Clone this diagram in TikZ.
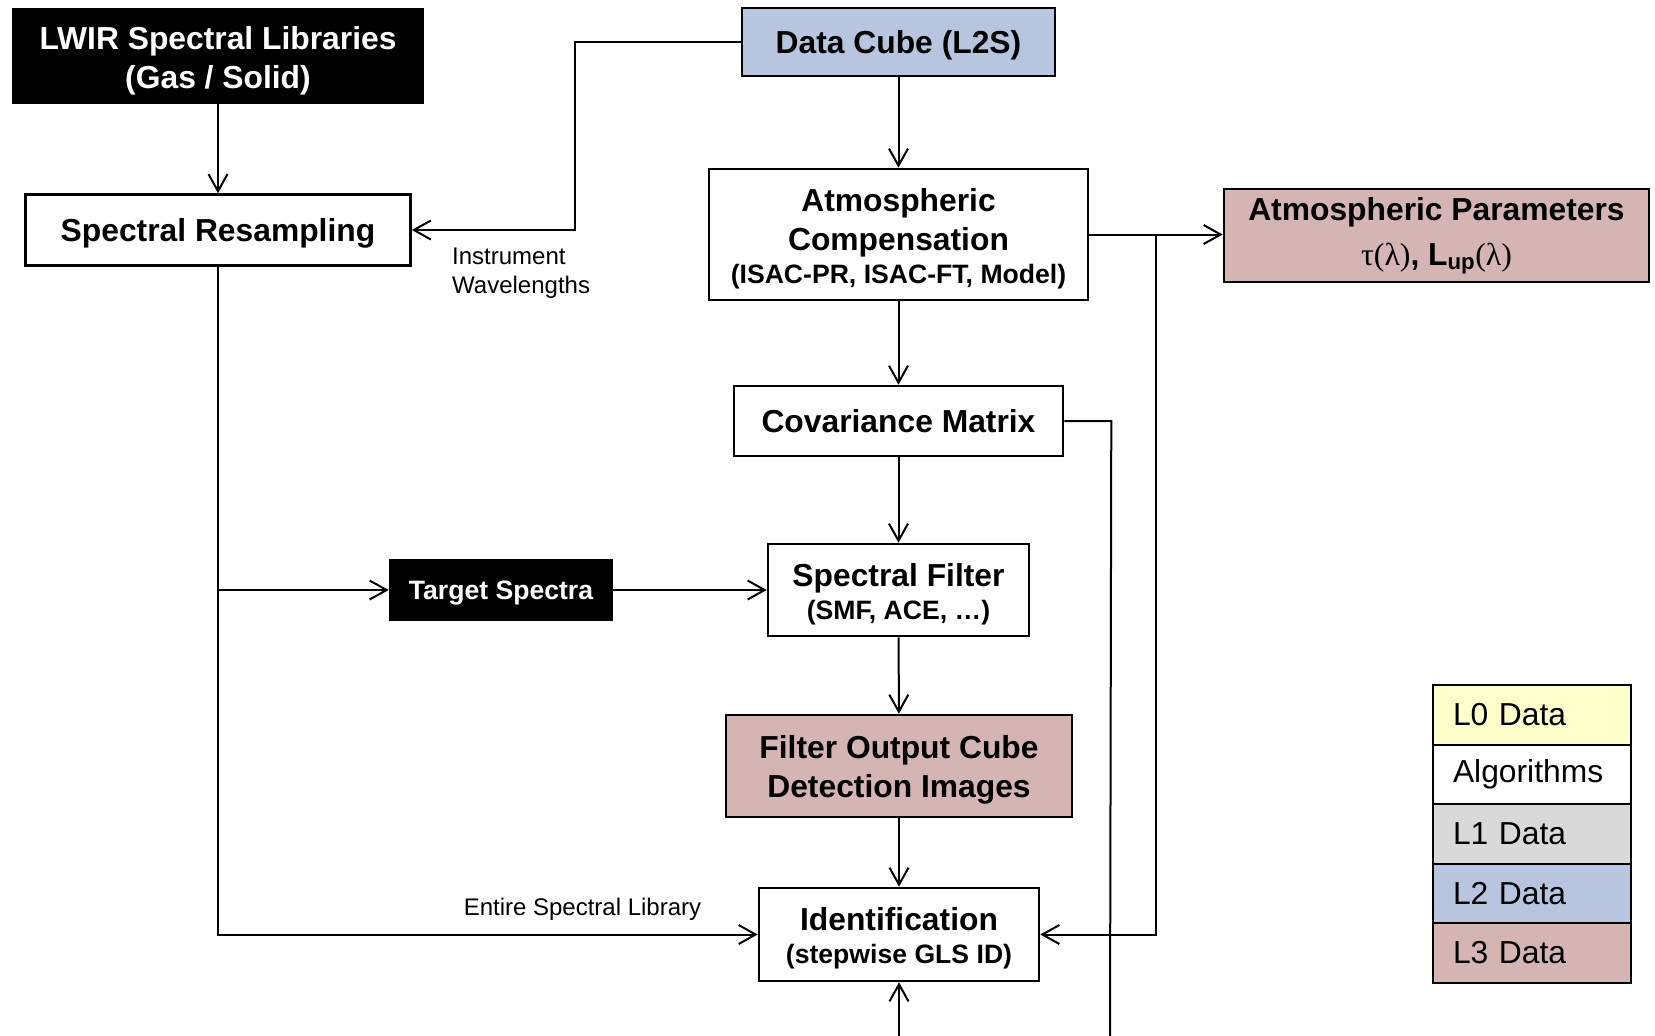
\documentclass[tikz,border=0pt]{standalone}
\usepackage{fontspec}
\setmainfont{Liberation Sans}
\newfontfamily\grkfnt{Liberation Serif}
\usetikzlibrary{arrows.meta}

\definecolor{lzero}{HTML}{FFFFCC}
\definecolor{lone}{HTML}{D9D9D9}
\definecolor{ltwo}{HTML}{B7C6DE}
\definecolor{lthree}{HTML}{D5B4B4}

\newcommand{\mainfnt}{\fontsize{31.8}{39}\selectfont\bfseries}
\newcommand{\subfnt}{\fontsize{26.6}{33}\selectfont\bfseries}
\newcommand{\notefnt}{\fontsize{24}{29}\selectfont}
\newcommand{\legfnt}{\fontsize{31.8}{38}\selectfont}
% extra room above the first line, pushes the text down in its box
\newcommand{\upstrut}[1]{\rule{0pt}{\dimexpr0.72em+#1\relax}}

\begin{document}
\begin{tikzpicture}[x=1pt,y=-1pt,
    algo/.style={draw, line width=2.6pt, fill=white, align=center, font=\mainfnt, inner sep=0pt},
    lib/.style={algo, fill=black, text=white},
    ltwobox/.style={algo, fill=ltwo},
    lthreebox/.style={algo, fill=lthree},
    legbox/.style={draw, line width=2.2pt, font=\legfnt, align=left, text width=158pt,
      inner xsep=20pt, inner ysep=0pt, minimum height=59.6pt},
    flow/.style={line width=2pt, -{Straight Barb[length=17pt,width=19pt]}}]
    \useasboundingbox (0,0) rectangle (1655,1036);

    \node[lib, minimum width=410pt, minimum height=94pt] (lwir) at (218,56)
      {\upstrut{9.5pt}LWIR Spectral Libraries\\(Gas / Solid)};
    \node[ltwobox, minimum width=313pt, minimum height=68pt] (cube) at (898.5,42)
      {\upstrut{6.4pt}Data Cube (L2S)};
    \node[algo, minimum width=385pt, minimum height=71pt] (resamp) at (218,230)
      {\upstrut{6.4pt}Spectral Resampling};
    \node[algo, minimum width=379pt, minimum height=131pt] (atmcomp) at (898.5,234.5)
      {\upstrut{9.5pt}Atmospheric\\Compensation\\[-6pt]{\subfnt (ISAC-PR, ISAC-FT, Model)}};
    \node[lthreebox, minimum width=425pt, minimum height=93pt] (atmpar) at (1436.5,235.5)
      {Atmospheric Parameters\\[6pt]{\grkfnt\mdseries τ(λ)}, L\textsubscript{up}{\grkfnt\mdseries (λ)}};
    \node[algo, minimum width=329pt, minimum height=70pt] (cov) at (898.5,421) {Covariance Matrix};
    \node[lib, minimum width=222pt, minimum height=60pt, font=\subfnt] (target) at (501,590)
      {\upstrut{6.4pt}Target Spectra};
    \node[algo, minimum width=261pt, minimum height=92pt] (filter) at (898.5,590)
      {\upstrut{8.4pt}Spectral Filter\\[-6pt]{\subfnt (SMF, ACE, …)}};
    \node[lthreebox, minimum width=346pt, minimum height=102pt] (fout) at (899,766)
      {\upstrut{8.4pt}Filter Output Cube\\Detection Images};
    \node[algo, minimum width=280pt, minimum height=93pt] (ident) at (899,934.5)
      {\upstrut{8.4pt}Identification\\[-6pt]{\subfnt (stepwise GLS ID)}};

    % connector labels
    \node[font=\notefnt, align=left, anchor=west, inner sep=0pt] (instr) at (452,273) {Instrument\\Wavelengths};
    \node[font=\notefnt, inner sep=0pt] (entire) at (582.5,909) {Entire Spectral Library};

    % legend
    \node[legbox, fill=lzero] (leg0) at (1532,715) {L0 Data};
    \node[legbox, fill=white] (leg1) at (1532,774.5) {Algorithms};
    \node[legbox, fill=lone] (leg2) at (1532,834) {L1 Data};
    \node[legbox, fill=ltwo] (leg3) at (1532,893.5) {L2 Data};
    \node[legbox, fill=lthree] (leg4) at (1532,953) {L3 Data};

    \coordinate (bot) at (899,1036);
    \coordinate (covend) at (1110,1036);

    \draw [flow] (lwir) -- (resamp);
    \draw [flow] (cube.west) -- ++(-166,0) |- (resamp.east);
    \draw [flow] (cube) -- (atmcomp);
    \draw [flow] (atmcomp.east) -- (atmcomp.east -| atmpar.west);
    \draw [flow] (atmcomp.east) -- ++(67,0) |- (ident.east);
    \draw [flow] (atmcomp) -- (cov);
    \draw [line width=2pt] (cov.east) -- ++(47,0) -- (covend);
    \draw [flow] (cov) -- (filter);
    \draw [flow] (resamp.south) |- (ident.west);
    \draw [flow] (resamp.south |- target) -- (target);
    \draw [flow] (target) -- (filter);
    \draw [flow] (filter) -- (fout);
    \draw [flow] (fout) -- (ident);
    \draw [flow] (bot) -- (ident);
  \end{tikzpicture}
\end{document}
